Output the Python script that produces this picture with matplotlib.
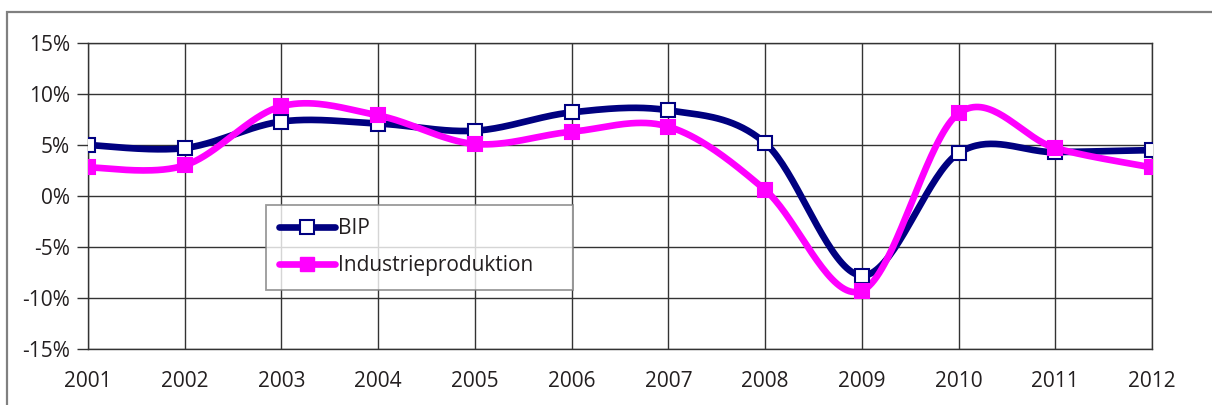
import numpy as np
import matplotlib
matplotlib.use('Agg')
import matplotlib.pyplot as plt
from matplotlib.patches import Rectangle

# data (growth rates in %)
years = [2001, 2002, 2003, 2004, 2005, 2006, 2007, 2008, 2009, 2010, 2011, 2012]
bip = [5.0, 4.7, 7.3, 7.1, 6.4, 8.2, 8.4, 5.2, -7.8, 4.2, 4.3, 4.5]
industrie = [2.8, 3.0, 8.8, 7.9, 5.1, 6.3, 6.8, 0.6, -9.3, 8.1, 4.7, 2.8]
y_ticks = [-15, -10, -5, 0, 5, 10, 15]


def smooth(x, y, n=40):
    # Excel-style smoothed line: cubic Bezier with Catmull-Rom control points
    x = np.asarray(x, float)
    y = np.asarray(y, float)
    px = np.concatenate([[x[0]], x, [x[-1]]])
    py = np.concatenate([[y[0]], y, [y[-1]]])
    xs, ys = [], []
    t = np.linspace(0, 1, n)
    for i in range(1, len(px) - 2):
        p0 = np.array([px[i], py[i]])
        p3 = np.array([px[i + 1], py[i + 1]])
        p1 = p0 + (np.array([px[i + 1], py[i + 1]]) - np.array([px[i - 1], py[i - 1]])) / 6
        p2 = p3 - (np.array([px[i + 2], py[i + 2]]) - np.array([px[i], py[i]])) / 6
        b = ((1 - t) ** 3)[:, None] * p0 + (3 * (1 - t) ** 2 * t)[:, None] * p1 \
            + (3 * (1 - t) * t ** 2)[:, None] * p2 + (t ** 3)[:, None] * p3
        xs.extend(b[:, 0])
        ys.extend(b[:, 1])
    return np.array(xs), np.array(ys)


plt.rcParams['font.family'] = ['Open Sans', 'DejaVu Sans']
plt.rcParams['text.color'] = '#231f20'

navy = '#000080'
magenta = '#FF00FF'
grid_col = '#333333'
fs = 15

fig = plt.figure(figsize=(12.12, 4.05), dpi=100)
ax = fig.add_axes([88 / 1212, 1 - 349 / 405, (1152 - 88) / 1212, (349 - 43) / 405])

# outer frame of the chart area
fig.patches.append(Rectangle((7 / 1212, -0.1), 1.2, 1 - 12 / 405 + 0.1, transform=fig.transFigure,
                             fill=False, edgecolor='#808080', lw=1.6, zorder=0))

sx, sy = smooth(years, bip)
ax.plot(sx, sy, color=navy, lw=4.8, solid_capstyle='round', zorder=3)
ax.plot(years, bip, ls='none', marker='s', ms=10, mfc='white', mec=navy, mew=1.5, zorder=4)

sx, sy = smooth(years, industrie)
ax.plot(sx, sy, color=magenta, lw=4.8, solid_capstyle='round', zorder=3)
ax.plot(years, industrie, ls='none', marker='s', ms=10, mfc=magenta, mec=magenta, mew=1.5, zorder=4)

ax.set_xlim(years[0], years[-1])
ax.set_ylim(-15, 15)
ax.set_xticks(years)
ax.set_yticks(y_ticks)
ax.set_yticklabels([f'{v}%' for v in y_ticks])
ax.grid(True, color=grid_col, lw=1.0)
ax.set_axisbelow(True)
for s in ax.spines.values():
    s.set_color(grid_col)
    s.set_linewidth(1.0)
ax.tick_params(axis='y', length=8, width=1.0, color=grid_col, labelsize=fs, pad=5,
               labelcolor='#231f20')
ax.tick_params(axis='x', length=0, labelsize=fs, pad=16, labelcolor='#231f20')

# legend
h1, = ax.plot([], [], color=navy, lw=4.8, marker='s', ms=10, mfc='white', mec=navy, mew=1.5,
              solid_capstyle='round')
h2, = ax.plot([], [], color=magenta, lw=4.8, marker='s', ms=10, mfc=magenta, mec=magenta,
              solid_capstyle='round')
leg = ax.legend([h1, h2], ['BIP', 'Industrieproduktion'], loc='upper left',
                bbox_to_anchor=(0.167, 0.203, 0.2885, 0.268), mode='expand',
                fontsize=fs, frameon=True, fancybox=False,
                handlelength=2.7, handletextpad=0.1, labelspacing=0.75, borderpad=0.65,
                borderaxespad=0)
leg.get_frame().set_edgecolor('#808080')
leg.get_frame().set_linewidth(1.3)
leg.set_zorder(5)

fig.savefig('out.png', dpi=100, facecolor='w')
